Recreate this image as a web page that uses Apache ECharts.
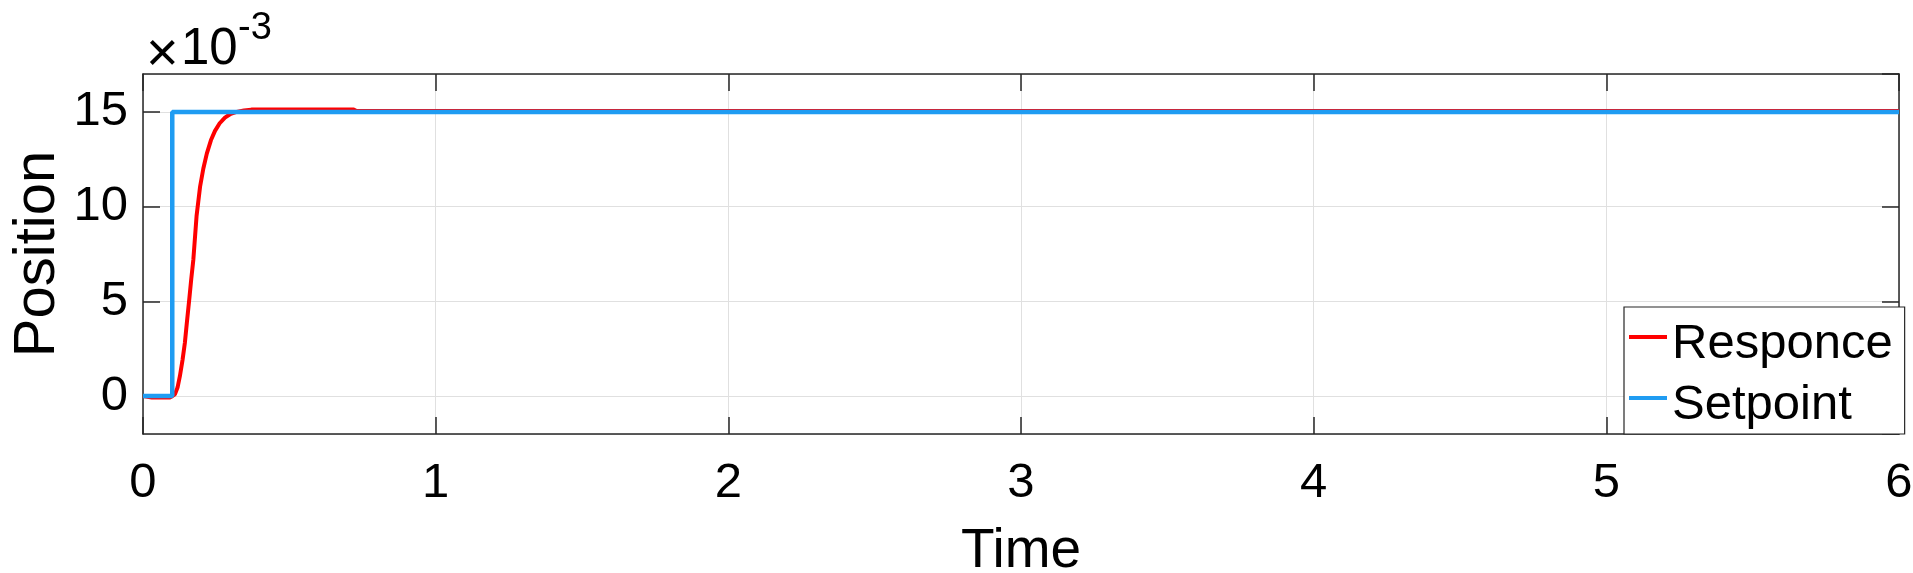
<!DOCTYPE html>
<html>
<head>
<meta charset="utf-8">
<script src="https://cdn.jsdelivr.net/npm/echarts@6/dist/echarts.min.js"></script>
<style>
  html, body { margin: 0; padding: 0; background: #fff; }
  #chart { width: 1913px; height: 573px; }
</style>
</head>
<body>
<div id="chart"></div>
<script>
// ---- data (values in units of 1e-3) ----
var responseTime  = [0, 0.03, 0.09, 0.1, 0.109, 0.118, 0.126, 0.135, 0.143, 0.15, 0.158, 0.165, 0.172, 0.183, 0.195, 0.206, 0.218, 0.232, 0.246, 0.262, 0.28, 0.3, 0.32, 0.345, 0.37, 0.72, 0.73, 6];
var responseValue = [0, -0.08, -0.08, 0, 0.09, 0.45, 1.05, 1.9, 2.8, 3.9, 5.1, 6.2, 7.2, 9.5, 11.05, 12.0, 12.8, 13.5, 14.0, 14.4, 14.7, 14.9, 15.0, 15.08, 15.12, 15.12, 15.05, 15.05];
var setpointTime  = [0, 0.1, 0.1, 6];
var setpointValue = [0, 0, 15, 15];
var xTicks = [0, 1, 2, 3, 4, 5, 6];
var yTicks = [0, 5, 10, 15];
var seriesNames = ['Responce', 'Setpoint'];
var exponentText = ['\u00d7', '10', '-3'];

function pairs(t, v) { return t.map(function (x, i) { return [x, v[i]]; }); }

var FONT = 'Liberation Sans, Arial, sans-serif';
var AX = '#262626';
// legend line glyph: a 4px bar at the top of a 38x19 box (tiny corner point fixes the box size)
var LEGEND_ICON = 'path://M0,0H38V4H0Z M37.95,18.95H38V19H37.95Z';

var chart = echarts.init(document.getElementById('chart'), null, { renderer: 'canvas' });
var xAxisCommon = {
  type: 'value', min: xTicks[0], max: xTicks[xTicks.length - 1], interval: 1,
  axisLine: { show: true, onZero: false, lineStyle: { color: AX, width: 1.5 } },
  axisTick: { show: true, inside: true, length: 17, lineStyle: { color: AX, width: 1.5 } }
};
var yAxisCommon = {
  type: 'value', min: -2, max: 17, splitNumber: 4,
  axisLine: { show: true, onZero: false, lineStyle: { color: AX, width: 1.5 } },
  axisTick: { show: true, inside: true, length: 17, lineStyle: { color: AX, width: 1.5 } }
};

chart.setOption({
  animation: false,
  backgroundColor: '#ffffff',
  grid: { left: 143, right: 14, top: 74, bottom: 139, containLabel: false, outerBoundsMode: 'none' },
  xAxis: [
    Object.assign({}, xAxisCommon, {
      position: 'bottom',
      name: 'Time', nameLocation: 'middle', nameGap: 90,
      nameTextStyle: { fontFamily: FONT, fontSize: 55, color: '#000' },
      axisLabel: { show: true, margin: 25, fontFamily: FONT, fontSize: 49, color: '#000' },
      splitLine: { show: true, lineStyle: { color: '#e0e0e0', width: 1 } }
    }),
    Object.assign({}, xAxisCommon, {
      position: 'top',
      axisLabel: { show: false },
      splitLine: { show: false }
    })
  ],
  yAxis: [
    Object.assign({}, yAxisCommon, {
      position: 'left',
      name: 'Position', nameLocation: 'middle', nameGap: 76, nameMoveOverlap: false,
      nameTextStyle: { fontFamily: FONT, fontSize: 58, color: '#000' },
      axisLabel: { show: true, margin: 15, fontFamily: FONT, fontSize: 49, color: '#000',
                   showMinLabel: false, showMaxLabel: false,
                   formatter: function (v) { return yTicks.indexOf(v) >= 0 ? String(v) : ''; } },
      splitLine: { show: true, lineStyle: { color: '#e0e0e0', width: 1 } }
    }),
    Object.assign({}, yAxisCommon, {
      position: 'right',
      axisLabel: { show: false },
      splitLine: { show: false }
    })
  ],
  legend: {
    data: seriesNames,
    orient: 'vertical',
    left: 1624, top: 307,
    padding: [13, 12, 4, 5],
    itemGap: 12,
    itemWidth: 38, itemHeight: 19,
    icon: LEGEND_ICON,
    backgroundColor: '#ffffff',
    borderColor: AX, borderWidth: 1.2,
    textStyle: { fontFamily: FONT, fontSize: 49, color: '#000', lineHeight: 48 }
  },
  graphic: [
    { type: 'text', left: 146, top: 28, style: { text: exponentText[0], font: '56px ' + FONT, fill: '#000' } },
    { type: 'text', left: 181, top: 24, style: { text: exponentText[1], font: '51px ' + FONT, fill: '#000' } },
    { type: 'text', left: 238, top: 10, style: { text: exponentText[2], font: '38px ' + FONT, fill: '#000' } }
  ],
  series: [
    {
      name: seriesNames[0], type: 'line', xAxisIndex: 0, yAxisIndex: 0,
      data: pairs(responseTime, responseValue),
      showSymbol: false, symbol: 'none',
      lineStyle: { color: '#ff0000', width: 4 },
      itemStyle: { color: '#ff0000' }
    },
    {
      name: seriesNames[1], type: 'line', xAxisIndex: 0, yAxisIndex: 0,
      data: pairs(setpointTime, setpointValue),
      showSymbol: false, symbol: 'none',
      lineStyle: { color: '#1f9cf2', width: 4.5 },
      itemStyle: { color: '#1f9cf2' }
    }
  ]
});
</script>
</body>
</html>
